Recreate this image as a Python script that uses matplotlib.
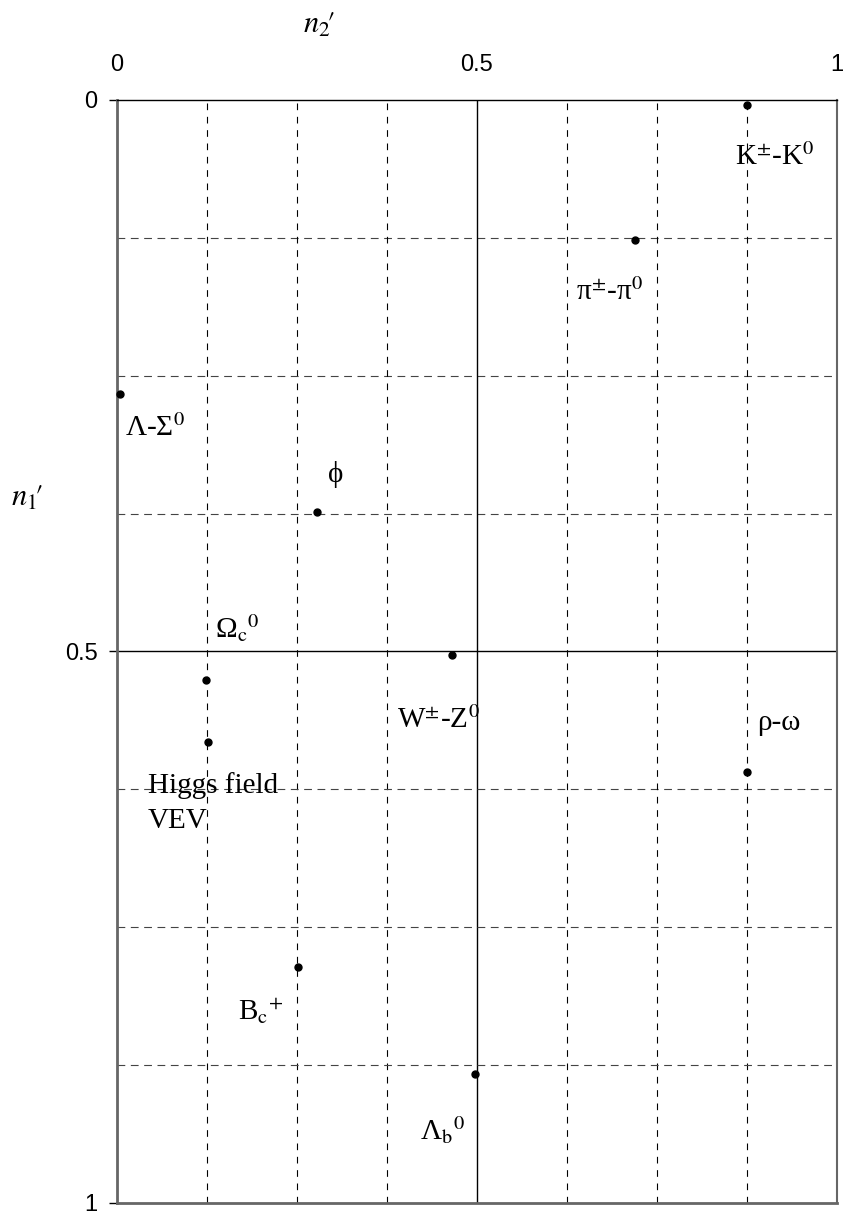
import matplotlib
matplotlib.use("Agg")
import matplotlib.pyplot as plt

plt.rcParams['mathtext.fontset'] = 'stix'

# data (n2' across, n1' down)
names = [r"K$^{\pm}$-K$^{0}$", r"π$^{\pm}$-π$^{0}$", r"Λ-Σ$^{0}$", "ϕ",
         r"W$^{\pm}$-Z$^{0}$", r"Ω$_{\rm c}{}^{0}$", "Higgs field\nVEV", "ρ-ω",
         r"B$_{\rm c}{}^{+}$", r"Λ$_{\rm b}{}^{0}$"]
n2 = [0.875, 0.719, 0.004, 0.278, 0.465, 0.124, 0.126, 0.875, 0.251, 0.497]
n1 = [0.005, 0.127, 0.267, 0.374, 0.503, 0.526, 0.582, 0.609, 0.786, 0.883]

# label offsets from each dot, pixels (left edge, vertical centre)
offsets = [(-12, -52), (-59, -52), (5, -34), (11, 38), (-55, -65),
           (9, 52), (-60, -61), (10, 49), (-60, -45), (-55, -56)]

fig = plt.figure(figsize=(8.44, 12.16), dpi=100)
ax = fig.add_axes([0.1386, 0.0107, 0.8531, 0.9071])

ax.set_xlim(0, 1)
ax.set_ylim(1, 0)

grid = [i / 8 for i in range(1, 8)]
for g in grid:
    if g == 0.5:
        ax.axvline(g, color='black', lw=1.0, zorder=1)
        ax.axhline(g, color='black', lw=1.0, zorder=1)
    else:
        ax.axvline(g, color='black', lw=0.8, ls=(0, (6, 6)), zorder=1)
        ax.axhline(g, color='#444444', lw=0.8, ls=(0, (7, 5)), zorder=1)

ax.plot(n2, n1, 'o', color='black', ms=5, zorder=3, clip_on=False)

for name, x, y, off in zip(names, n2, n1, offsets):
    ax.annotate(name, (x, y), xytext=off, textcoords='offset pixels',
                ha='left', va='center', fontsize=21, family='Liberation Serif',
                linespacing=1.45, zorder=4)

ax.xaxis.tick_top()
ax.set_xticks([0, 0.5, 1])
ax.set_xticklabels(['0', '0.5', '1'])
ax.set_yticks([0, 0.5, 1])
ax.set_yticklabels(['0', '0.5', '1'])
ax.tick_params(axis='x', length=0, pad=17, labelsize=17, colors='black')
ax.tick_params(axis='y', direction='out', length=6, width=1, pad=8, labelsize=17, colors='black')
for lab in ax.get_xticklabels() + ax.get_yticklabels():
    lab.set_family('Liberation Sans')

ax.spines['top'].set_color('black')
ax.spines['top'].set_linewidth(1.0)
for s in ['left', 'right', 'bottom']:
    ax.spines[s].set_color('#666666')
    ax.spines[s].set_linewidth(2.0)
ax.spines['right'].set_linewidth(1.5)

fig.text(319 / 844, 1 - 25 / 1216, r"$n_2\!\prime$", fontsize=22, ha='center', va='center')
fig.text(27 / 844, 1 - 498 / 1216, r"$n_1\!\prime$", fontsize=22, ha='center', va='center')

fig.savefig('out.png', dpi=100)
